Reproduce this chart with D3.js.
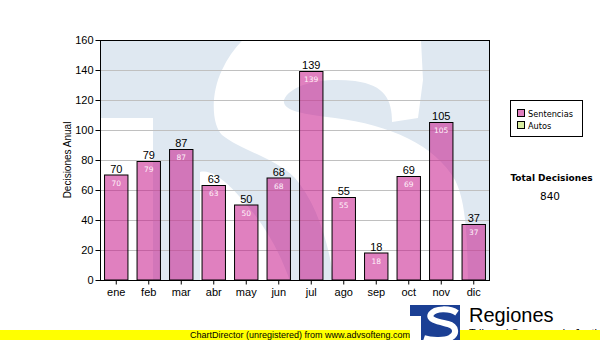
<!DOCTYPE html>
<html>
<head>
<meta charset="utf-8">
<script src="https://cdn.jsdelivr.net/npm/d3@7"></script>
<style>
  html, body { margin: 0; padding: 0; background: #fff; }
  svg { display: block; }
</style>
</head>
<body>
<svg id="chart" width="600" height="340"></svg>
<script>
// Monthly decisions data
const months = ["ene", "feb", "mar", "abr", "may", "jun", "jul", "ago", "sep", "oct", "nov", "dic"];
const sentencias = [70, 79, 87, 63, 50, 68, 139, 55, 18, 69, 105, 37];
const seriesNames = ["Sentencias", "Autos"];
const yTicks = [0, 20, 40, 60, 80, 100, 120, 140, 160];
const yTitle = "Decisiones Anual";
const totalTitle = "Total Decisiones";
const brandName = "Regiones";
const brandSubtitle = "Tribunal Supremo de Justicia";
const footerText = "ChartDirector (unregistered) from www.advsofteng.com";

const W = 600, H = 340;
const plot = { left: 100, top: 40, right: 490, bottom: 280 };
const pw = plot.right - plot.left, ph = plot.bottom - plot.top;

const svg = d3.select("#chart");
const ARIAL = "'Liberation Sans', Arial, sans-serif";
const VERDANA = "'DejaVu Sans', Verdana, sans-serif";

const x = d3.scaleBand().domain(months).range([plot.left, plot.right])
  .paddingInner(0.28).paddingOuter(0.14);
const y = d3.scaleLinear().domain([0, 160]).range([plot.bottom, plot.top]);

// Plot background with the large logo watermark
const defs = svg.append("defs");
defs.append("clipPath").attr("id", "plotClip")
  .append("rect").attr("x", plot.left).attr("y", plot.top).attr("width", pw).attr("height", ph);
defs.append("clipPath").attr("id", "iconClip")
  .append("rect").attr("x", 410).attr("y", 305).attr("width", 50).attr("height", 35);

const wm = svg.append("g").attr("clip-path", "url(#plotClip)");
wm.append("rect").attr("x", plot.left).attr("y", plot.top).attr("width", pw).attr("height", ph)
  .attr("fill", "#dfe8f1");
// white notch under the T bar
wm.append("rect").attr("x", plot.left).attr("y", 118).attr("width", 53).attr("height", plot.bottom - 118)
  .attr("fill", "#fff");
// the white S: upper stroke, spine and lower bowl
wm.append("path").attr("fill", "#fff").attr("d",
  "M270,20 L420,20 L423,80 L418,118 L392,122 " +
  "C392,100 385,85 355,81 C320,77 290,85 284,100 C282,110 300,114 335,118 " +
  "C390,125 435,145 455,180 C465,200 468,230 468,300 L336,300 " +
  "C332,250 318,205 295,178 C275,158 240,150 222,135 C212,125 210,95 222,70 " +
  "C232,48 250,30 270,20 Z");
// lower terminal of the S
wm.append("path").attr("fill", "#fff").attr("d",
  "M200,172 C215,168 235,190 255,215 C272,238 285,262 296,300 L200,300 Z");

// Horizontal grid lines
svg.append("g").selectAll("line").data(yTicks.filter(t => t > 0 && t < 160)).join("line")
  .attr("x1", plot.left).attr("x2", plot.right)
  .attr("y1", d => Math.round(y(d)) + 0.5).attr("y2", d => Math.round(y(d)) + 0.5)
  .attr("stroke", "#c0c0c0").attr("stroke-width", 1);

// Bars
const barFill = "rgb(199,24,139)";
svg.append("g").selectAll("rect").data(sentencias).join("rect")
  .attr("x", (d, i) => x(months[i]))
  .attr("y", d => y(d))
  .attr("width", x.bandwidth())
  .attr("height", d => y(0) - y(d))
  .attr("fill", barFill).attr("fill-opacity", 0.55)
  .attr("stroke", "#000").attr("stroke-width", 1);

// Value labels above bars
svg.append("g").selectAll("text").data(sentencias).join("text")
  .attr("x", (d, i) => x(months[i]) + x.bandwidth() / 2)
  .attr("y", d => y(d) - 2.5)
  .attr("text-anchor", "middle")
  .attr("font-family", ARIAL).attr("font-size", 11).attr("fill", "#000")
  .text(d => d);

// Value labels inside bars
svg.append("g").selectAll("text").data(sentencias).join("text")
  .attr("x", (d, i) => x(months[i]) + x.bandwidth() / 2)
  .attr("y", d => y(d) + 10.5)
  .attr("text-anchor", "middle")
  .attr("font-family", VERDANA).attr("font-size", 7.5).attr("fill", "#fff3fa")
  .text(d => d);

// Plot border
svg.append("rect").attr("x", plot.left + 0.5).attr("y", plot.top + 0.5)
  .attr("width", pw - 1).attr("height", ph)
  .attr("fill", "none").attr("stroke", "#000").attr("stroke-width", 1);

// Y axis
const yAxis = d3.axisLeft(y).tickValues(yTicks).tickSize(5).tickPadding(2);
const gy = svg.append("g").attr("transform", `translate(${plot.left + 0.5},0)`).call(yAxis);
gy.select(".domain").remove();
gy.selectAll(".tick line").attr("stroke", "#000");
gy.selectAll(".tick text").attr("font-family", ARIAL).attr("font-size", 11).attr("fill", "#000");

// X axis
const xAxis = d3.axisBottom(x).tickSize(4).tickPadding(4);
const gx = svg.append("g").attr("transform", `translate(0,${plot.bottom + 0.5})`).call(xAxis);
gx.select(".domain").remove();
gx.selectAll(".tick line").attr("stroke", "#000");
gx.selectAll(".tick text").attr("font-family", ARIAL).attr("font-size", 11).attr("fill", "#000");

// Y axis title
svg.append("text")
  .attr("transform", `translate(71,${(plot.top + plot.bottom) / 2}) rotate(-90)`)
  .attr("text-anchor", "middle")
  .attr("font-family", ARIAL).attr("font-size", 10).attr("fill", "#000")
  .text(yTitle);

// Legend
const legend = svg.append("g");
legend.append("rect").attr("x", 510.5).attr("y", 100.5).attr("width", 72).attr("height", 36)
  .attr("fill", "#fff").attr("stroke", "#000").attr("stroke-width", 1);
const legendColors = ["#e07fbf", "#d9eea0"];
seriesNames.forEach((name, i) => {
  legend.append("rect").attr("x", 517.5).attr("y", 109.5 + i * 12).attr("width", 7).attr("height", 7)
    .attr("fill", legendColors[i]).attr("stroke", "#000").attr("stroke-width", 1);
  legend.append("text").attr("x", 528).attr("y", 117 + i * 12)
    .attr("font-family", VERDANA).attr("font-size", 8.2).attr("fill", "#000")
    .text(name);
});

// Total
const total = d3.sum(sentencias);
svg.append("text").attr("x", 551.5).attr("y", 181).attr("text-anchor", "middle")
  .attr("font-family", VERDANA).attr("font-size", 9).attr("font-weight", "bold").attr("fill", "#000")
  .text(totalTitle);
svg.append("text").attr("x", 550).attr("y", 200).attr("text-anchor", "middle")
  .attr("font-family", VERDANA).attr("font-size", 10.5).attr("fill", "#000")
  .text(total);

// Brand block (subtitle sits partly under the footer band)
svg.append("text").attr("x", 469).attr("y", 337)
  .attr("font-family", ARIAL).attr("font-size", 11).attr("fill", "#000")
  .text(brandSubtitle);

// Footer band
svg.append("rect").attr("x", 0).attr("y", 330).attr("width", W).attr("height", 10).attr("fill", "#ffff00");
svg.append("text").attr("x", 300).attr("y", 337.5).attr("text-anchor", "middle")
  .attr("font-family", ARIAL).attr("font-size", 9).attr("fill", "#000")
  .text(footerText);

// Logo icon: blue block with a white notch and a white S stroke
const icon = svg.append("g").attr("clip-path", "url(#iconClip)");
icon.append("rect").attr("x", 410).attr("y", 305).attr("width", 50).attr("height", 35).attr("fill", "#1b3f94");
icon.append("rect").attr("x", 410).attr("y", 316).attr("width", 11).attr("height", 24).attr("fill", "#fff");
icon.append("path")
  .attr("d", "M457,313 C450,308 435,308 431,314 C427,320 440,322 448,324 C456,326 458,334 450,338 C444,341 430,340 424,338")
  .attr("fill", "none").attr("stroke", "#fff").attr("stroke-width", 6);

svg.append("text").attr("x", 469).attr("y", 322)
  .attr("font-family", ARIAL).attr("font-size", 20).attr("fill", "#000")
  .text(brandName);
</script>
</body>
</html>
